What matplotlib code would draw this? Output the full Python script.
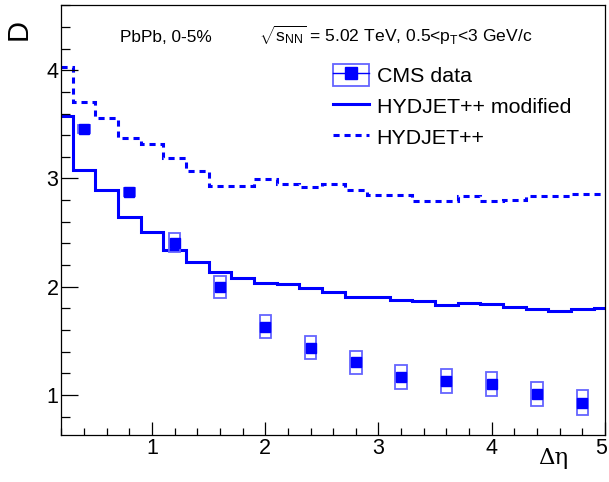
import numpy as np
import matplotlib
matplotlib.use('Agg')
import matplotlib.pyplot as plt
import matplotlib.transforms as mtransforms
from matplotlib.patches import Rectangle
from matplotlib.lines import Line2D
from matplotlib.ticker import MultipleLocator

plt.rcParams['font.family'] = ['Liberation Sans', 'DejaVu Sans']
plt.rcParams['mathtext.fontset'] = 'custom'
plt.rcParams['mathtext.rm'] = 'Liberation Sans'
plt.rcParams['mathtext.it'] = 'Liberation Sans:italic'
plt.rcParams['mathtext.bf'] = 'Liberation Sans:bold'

# model histograms, bins of width 0.2 centred on 0.2 ... 5.0
edges = [0.1, 0.3, 0.5, 0.7, 0.9, 1.1, 1.3, 1.5, 1.7, 1.9, 2.1, 2.3, 2.5,
         2.7, 2.9, 3.1, 3.3, 3.5, 3.7, 3.9, 4.1, 4.3, 4.5, 4.7, 4.9, 5.1]
hyd_mod = [3.575, 3.08, 2.89, 2.64, 2.51, 2.34, 2.225, 2.135, 2.078, 2.033,
           2.025, 1.988, 1.95, 1.908, 1.903, 1.875, 1.872, 1.833, 1.846, 1.838,
           1.815, 1.795, 1.78, 1.792, 1.80]
hyd = [4.03, 3.71, 3.557, 3.37, 3.317, 3.188, 3.07, 2.934, 2.934, 2.996,
       2.947, 2.92, 2.945, 2.892, 2.851, 2.851, 2.793, 2.79, 2.842, 2.79,
       2.80, 2.836, 2.836, 2.86, 2.86]

# CMS points
deta = [0.4, 0.8, 1.2, 1.6, 2.0, 2.4, 2.8, 3.2, 3.6, 4.0, 4.4, 4.8]
cms = [3.456, 2.876, 2.408, 2.00, 1.631, 1.437, 1.302, 1.166, 1.132, 1.104, 1.006, 0.929]
cms_sys = [0.04, 0.04, 0.09, 0.10, 0.105, 0.106, 0.105, 0.11, 0.11, 0.11, 0.11, 0.114]

blue = '#0000ff'
boxcol = '#6464ff'
dash = (0, (2.0, 1.6))

fig = plt.figure(figsize=(6.09, 4.82), dpi=100)
ax = fig.add_axes([0.1007, 0.0975, 0.8928, 0.8915])

ax.stairs(hyd_mod, edges, color=blue, lw=2.2, baseline=None)
ax.stairs(hyd, edges, color=blue, lw=2.2, ls=dash, baseline=None)

for x, y, e in zip(deta, cms, cms_sys):
    ax.add_patch(Rectangle((x - 0.05, y - e), 0.1, 2 * e, fill=False,
                           ec=boxcol, lw=1.3, zorder=3))
ax.plot(deta, cms, 's', color=blue, ms=7.5, mec=blue, zorder=4)

ax.set_xlim(0.2, 5.0)
ax.set_ylim(0.63, 4.6)
ax.set_xticks([1, 2, 3, 4, 5])
ax.set_yticks([1, 2, 3, 4])
ax.xaxis.set_minor_locator(MultipleLocator(0.2))
ax.yaxis.set_minor_locator(MultipleLocator(0.2))
ax.tick_params(which='both', direction='in', top=False, right=False,
               labelsize=15.5, width=0.9)
ax.tick_params(axis='y', which='major', length=12.2, pad=2)
ax.tick_params(axis='y', which='minor', length=6.7)
ax.tick_params(axis='x', which='major', length=9.4, pad=2.5)
ax.tick_params(axis='x', which='minor', length=4.8)
for s in ax.spines.values():
    s.set_linewidth(0.9)

# nudge the last x label so it stays inside the canvas
last = ax.get_xticklabels()[-1]
last.set_transform(last.get_transform() +
                   mtransforms.ScaledTranslation(-3 / 72, 0, fig.dpi_scale_trans))

h_cms = (Rectangle((0, 0), 1, 1, fill=False, ec=boxcol, lw=1.3),
         Line2D([], [], color=blue, lw=1, marker='s', ms=8))
h_mod = Line2D([], [], color=blue, lw=2.2)
h_hyd = Line2D([], [], color=blue, lw=2.2, ls=dash)
fig.legend([h_cms, h_mod, h_hyd], ['CMS data', 'HYDJET++ modified', 'HYDJET++'],
           loc='upper left', bbox_to_anchor=(333.3 / 609, 1 - 63.7 / 482),
           frameon=False, fontsize=15.4, handlelength=1.68, handleheight=1.21,
           handletextpad=0.35, labelspacing=0.42, borderpad=0, borderaxespad=0)

fig.text(120 / 609, 1 - 41.7 / 482, 'PbPb, 0-5%', fontsize=12.4, va='baseline')
fig.text(259 / 609, 1 - 41.7 / 482,
         r'$\sqrt{\mathrm{s}_{\mathrm{NN}}}$ = 5.02 TeV, 0.5<p$_{\mathrm{T}}$<3 GeV/c',
         fontsize=12.6, va='baseline')
fig.text(18.5 / 609, 1 - 29.5 / 482, 'D', rotation=90, fontsize=21,
         ha='center', va='center')
fig.text(568 / 609, 1 - 464 / 482, 'Δη', fontsize=16.5,
         family='DejaVu Serif', ha='right', va='baseline')

fig.savefig('out.png', dpi=100)
